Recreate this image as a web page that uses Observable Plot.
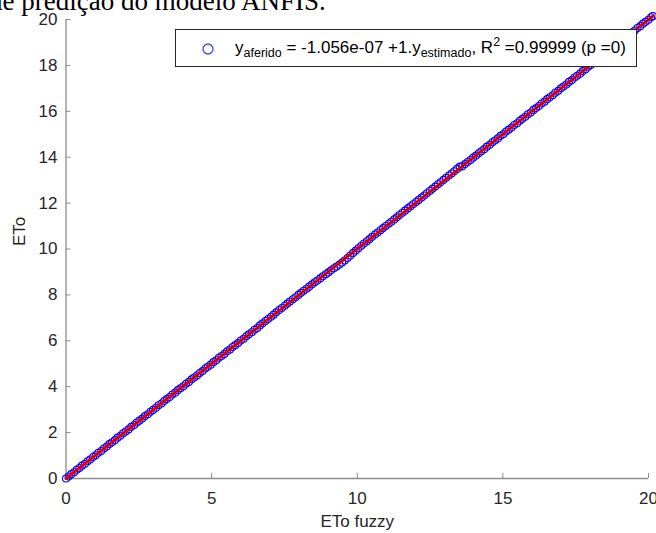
<!DOCTYPE html>
<html><head><meta charset="utf-8">
<script src="https://cdn.jsdelivr.net/npm/d3@7"></script>
<script src="https://cdn.jsdelivr.net/npm/@observablehq/plot@0.6"></script>
<style>
body{margin:0;background:#fff;}
#wrap{position:relative;width:656px;height:533px;overflow:hidden;background:#fff;}
#title{position:absolute;left:0;top:0;}
#chart{position:absolute;left:0;top:0;}
#legend{position:absolute;left:175px;top:29px;width:462px;height:38px;border:1px solid #262626;background:#fff;box-sizing:border-box;font-family:'Liberation Sans',Arial,sans-serif;font-size:17px;color:#000;}
#legend svg{position:absolute;left:26px;top:13px;}
#legend .txt{position:absolute;left:59px;top:5px;white-space:nowrap;}
#legend sub,#legend sup{font-size:12.5px;}
</style>
</head><body>
<div id="wrap">
  <div id="chart"></div>
  <svg id="title" width="656" height="30"><text x="-11" y="10" font-family="'Liberation Serif','Times New Roman',serif" font-size="27" fill="#000">de predição do modelo ANFIS.</text></svg>
  <div id="legend">
    <svg width="12" height="12"><circle cx="6" cy="6" r="5" fill="none" stroke="#4040ff" stroke-width="1.3"/></svg>
    <div class="txt">y<sub>aferido</sub> = -1.056e-07 +1.y<sub>estimado</sub>, R<sup>2</sup> =0.99999 (p =0)</div>
  </div>
</div>
<script>
const xTicks = [0, 5, 10, 15, 20];
const yTicks = [0, 2, 4, 6, 8, 10, 12, 14, 16, 18, 20];
const xLabel = "ETo fuzzy";
const yLabel = "ETo";

const etoFuzzy = [0.00,0.09,0.18,0.28,0.37,0.46,0.55,0.65,0.74,0.83,0.93,1.02,1.11,1.21,1.30,1.40,1.49,1.58,1.68,1.77,1.87,1.96,2.05,2.15,2.24,2.34,2.43,2.52,2.62,2.71,2.81,2.90,2.99,3.09,3.18,3.28,3.37,3.46,3.56,3.65,3.75,3.84,3.93,4.03,4.12,4.22,4.31,4.40,4.50,4.59,4.69,4.78,4.87,4.97,5.06,5.16,5.25,5.34,5.44,5.53,5.63,5.72,5.81,5.91,6.00,6.10,6.19,6.28,6.38,6.47,6.57,6.66,6.75,6.85,6.94,7.04,7.13,7.22,7.32,7.41,7.51,7.60,7.69,7.79,7.88,7.98,8.07,8.16,8.26,8.35,8.45,8.54,8.63,8.73,8.82,8.92,9.01,9.10,9.20,9.29,9.39,9.48,9.57,9.67,9.76,9.86,9.95,10.04,10.14,10.23,10.33,10.42,10.51,10.61,10.70,10.80,10.89,10.98,11.08,11.17,11.27,11.36,11.45,11.55,11.64,11.74,11.83,11.92,12.02,12.11,12.21,12.30,12.39,12.49,12.58,12.68,12.77,12.86,12.96,13.05,13.15,13.24,13.33,13.43,13.52,13.60,13.70,13.79,13.89,13.98,14.08,14.17,14.26,14.36,14.45,14.55,14.64,14.73,14.83,14.92,15.02,15.11,15.20,15.30,15.39,15.49,15.58,15.67,15.77,15.86,15.96,16.05,16.14,16.24,16.33,16.43,16.52,16.61,16.71,16.80,16.90,16.99,17.08,17.18,17.27,17.37,17.46,17.55,17.65,17.74,17.84,17.93,18.02,18.12,18.21,18.31,18.40,18.49,18.59,18.68,18.78,18.87,18.96,19.06,19.15,19.25,19.34,19.43,19.53,19.62,19.72,19.81,19.90,20.00,20.09,20.15];
const eto = [0.00,0.09,0.19,0.27,0.38,0.46,0.56,0.64,0.75,0.83,0.94,1.01,1.12,1.20,1.31,1.39,1.50,1.58,1.67,1.78,1.86,1.97,2.05,2.14,2.25,2.33,2.44,2.52,2.61,2.72,2.80,2.91,2.99,3.08,3.19,3.27,3.38,3.46,3.55,3.66,3.74,3.85,3.93,4.02,4.13,4.21,4.32,4.40,4.49,4.60,4.68,4.79,4.87,4.96,5.07,5.15,5.26,5.34,5.43,5.54,5.62,5.73,5.81,5.90,6.01,6.09,6.20,6.28,6.37,6.48,6.56,6.67,6.76,6.86,6.95,7.05,7.14,7.24,7.34,7.43,7.53,7.62,7.71,7.81,7.90,8.00,8.09,8.18,8.27,8.36,8.46,8.55,8.63,8.72,8.81,8.90,8.98,9.07,9.16,9.24,9.32,9.41,9.50,9.61,9.72,9.83,9.93,10.03,10.14,10.24,10.34,10.43,10.53,10.63,10.72,10.82,10.91,11.00,11.10,11.19,11.29,11.38,11.48,11.58,11.67,11.77,11.86,11.95,12.05,12.14,12.24,12.33,12.43,12.53,12.62,12.72,12.82,12.91,13.01,13.10,13.20,13.29,13.39,13.49,13.59,13.60,13.70,13.79,13.88,13.98,14.07,14.17,14.26,14.35,14.46,14.54,14.65,14.73,14.82,14.93,15.01,15.12,15.20,15.29,15.40,15.48,15.59,15.67,15.76,15.87,15.95,16.06,16.14,16.23,16.34,16.42,16.53,16.61,16.70,16.81,16.89,17.00,17.08,17.17,17.28,17.36,17.47,17.55,17.64,17.75,17.83,17.94,18.02,18.11,18.22,18.30,18.41,18.49,18.58,18.69,18.77,18.88,18.96,19.05,19.16,19.24,19.35,19.43,19.52,19.63,19.71,19.82,19.90,19.99,20.10,20.15];

const fitX = [0, 20.15];
const fitY = [-1.056e-7, 20.15];

const points = etoFuzzy.map((x, i) => ({x, y: eto[i]}));
const fit = fitX.map((x, i) => ({x, y: fitY[i]}));

const axisGray = "#8c8c8c";
const textGray = "#262626";

const chart = Plot.plot({
  width: 656,
  height: 533,
  marginLeft: 65.5,
  marginRight: 8,
  marginTop: 19,
  marginBottom: 55,
  x: {domain: [0, 20]},
  y: {domain: [0, 20]},
  style: {fontFamily: "'Liberation Sans', Arial, sans-serif", fontSize: "17px", background: "transparent", overflow: "visible"},
  marks: [
    Plot.ruleY([0], {stroke: axisGray, strokeWidth: 1.3}),
    Plot.ruleX([0], {stroke: axisGray, strokeWidth: 1.3}),
    Plot.axisX(xTicks, {anchor: "bottom", tickSize: -5, tickPadding: 18, stroke: axisGray, fill: textGray, label: null, fontSize: 17}),
    Plot.axisY(yTicks, {anchor: "left", tickSize: -5, tickPadding: 13.5, stroke: axisGray, fill: textGray, label: null, fontSize: 17}),
    Plot.text([xLabel], {frameAnchor: "bottom", dy: 43, lineAnchor: "middle", fill: textGray, fontSize: 17}),
    Plot.text([yLabel], {frameAnchor: "left", dx: -46, dy: -3, rotate: -90, lineAnchor: "middle", fill: textGray, fontSize: 17}),
    Plot.dot(points, {x: "x", y: "y", r: 3.5, stroke: "#0000ff", strokeWidth: 1.1, fill: "none"}),
    Plot.line(fit, {x: "x", y: "y", stroke: "#ff0000", strokeWidth: 3}),
    Plot.line(fit, {x: "x", y: "y", stroke: "#7a0000", strokeWidth: 0.8})
  ]
});
document.getElementById("chart").appendChild(chart);
</script>
</body></html>
